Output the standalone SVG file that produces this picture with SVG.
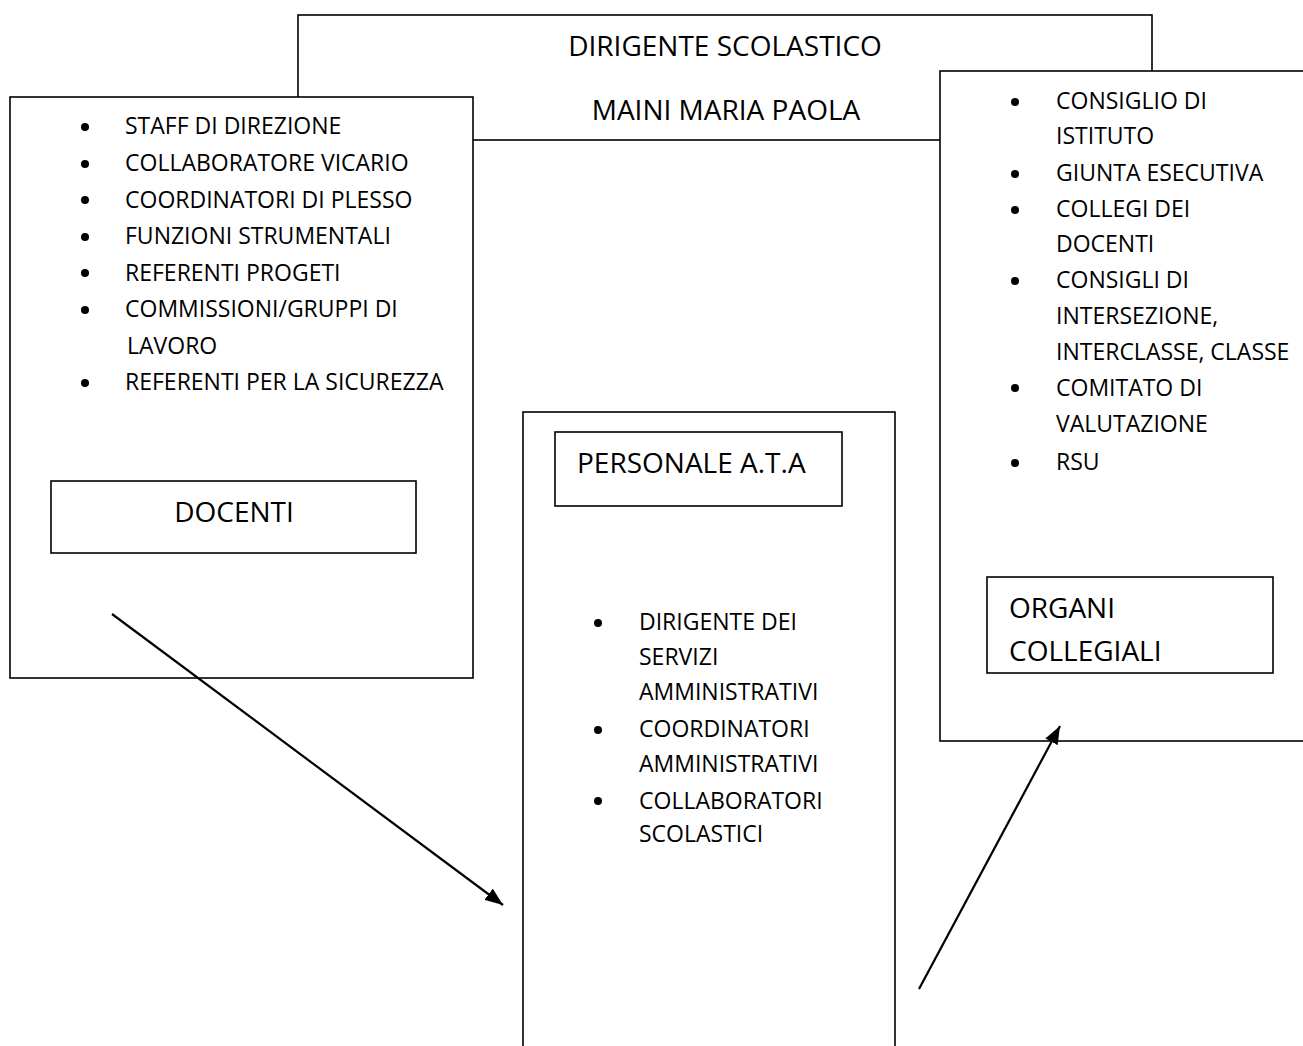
<svg xmlns="http://www.w3.org/2000/svg" width="1303" height="1046" viewBox="0 0 1303 1046">
<style>
.box{fill:#fff;stroke:#000;stroke-width:1.6}
.t{font-family:"Open Sans","Liberation Sans",sans-serif;font-size:23px;fill:#000}
.L{font-family:"Open Sans","Liberation Sans",sans-serif;font-size:28px;fill:#000}
.dot{fill:#000}
.conn{stroke:#000;stroke-width:2.2;fill:none}
</style>
<defs>
<marker id="ah" markerUnits="userSpaceOnUse" markerWidth="20" markerHeight="14" refX="18" refY="7" orient="auto">
<path d="M0,0 L18,7 L0,14 Z" fill="#000"/>
</marker>
</defs>
<rect width="1303" height="1046" fill="#fff"/>

<g id="dirigente">
<rect class="box" x="298" y="15" width="854" height="125"/>
<text class="L" x="725" y="56" text-anchor="middle">DIRIGENTE SCOLASTICO</text>
<text class="L" x="726" y="120" text-anchor="middle">MAINI MARIA PAOLA</text>
</g>

<g id="staff">
<rect class="box" x="10" y="97" width="463" height="581"/>
<circle class="dot" cx="85" cy="127" r="4"/><text class="t" x="125" y="134">STAFF DI DIREZIONE</text>
<circle class="dot" cx="85" cy="164" r="4"/><text class="t" x="125" y="171">COLLABORATORE VICARIO</text>
<circle class="dot" cx="85" cy="200" r="4"/><text class="t" x="125" y="207.5">COORDINATORI DI PLESSO</text>
<circle class="dot" cx="85" cy="237" r="4"/><text class="t" x="125" y="244">FUNZIONI STRUMENTALI</text>
<circle class="dot" cx="85" cy="273" r="4"/><text class="t" x="125" y="280.5">REFERENTI PROGETI</text>
<circle class="dot" cx="85" cy="310" r="4"/><text class="t" x="125" y="317">COMMISSIONI/GRUPPI DI</text>
<text class="t" x="127" y="353.5">LAVORO</text>
<circle class="dot" cx="85" cy="383" r="4"/><text class="t" x="125" y="390">REFERENTI PER LA SICUREZZA</text>
</g>

<g id="docenti">
<rect class="box" x="51" y="481" width="365" height="72"/>
<text class="L" x="234" y="522" text-anchor="middle">DOCENTI</text>
</g>

<g id="organi-list">
<rect class="box" x="940" y="71" width="380" height="670"/>
<circle class="dot" cx="1015" cy="102" r="4"/><text class="t" x="1056" y="109">CONSIGLIO DI</text>
<text class="t" x="1056" y="144">ISTITUTO</text>
<circle class="dot" cx="1015" cy="174" r="4"/><text class="t" x="1056" y="181">GIUNTA ESECUTIVA</text>
<circle class="dot" cx="1015" cy="210" r="4"/><text class="t" x="1056" y="217">COLLEGI DEI</text>
<text class="t" x="1056" y="252">DOCENTI</text>
<circle class="dot" cx="1015" cy="281" r="4"/><text class="t" x="1056" y="288">CONSIGLI DI</text>
<text class="t" x="1056" y="324">INTERSEZIONE,</text>
<text class="t" x="1056" y="359.5">INTERCLASSE, CLASSE</text>
<circle class="dot" cx="1015" cy="388" r="4"/><text class="t" x="1056" y="395.5">COMITATO DI</text>
<text class="t" x="1056" y="431.5">VALUTAZIONE</text>
<circle class="dot" cx="1015" cy="463" r="4"/><text class="t" x="1056" y="470">RSU</text>
</g>

<g id="organi-collegiali">
<rect class="box" x="987" y="577" width="286" height="96"/>
<text class="L" x="1009" y="618">ORGANI</text>
<text class="L" x="1009" y="661">COLLEGIALI</text>
</g>

<g id="ata">
<rect class="box" x="523" y="412" width="372" height="660"/>
<circle class="dot" cx="598" cy="623" r="4"/><text class="t" x="639" y="630">DIRIGENTE DEI</text>
<text class="t" x="639" y="665">SERVIZI</text>
<text class="t" x="639" y="699.5">AMMINISTRATIVI</text>
<circle class="dot" cx="598" cy="730" r="4"/><text class="t" x="639" y="737">COORDINATORI</text>
<text class="t" x="639" y="772">AMMINISTRATIVI</text>
<circle class="dot" cx="598" cy="801" r="4"/><text class="t" x="639" y="808.5">COLLABORATORI</text>
<text class="t" x="639" y="842">SCOLASTICI</text>
</g>

<g id="personale-ata">
<rect class="box" x="555" y="432" width="287" height="74"/>
<text class="L" x="577" y="473">PERSONALE A.T.A</text>
</g>

<g id="connectors">
<line class="conn" x1="112" y1="614" x2="503" y2="905" marker-end="url(#ah)"/>
<line class="conn" x1="919" y1="989" x2="1060" y2="726" marker-end="url(#ah)"/>
</g>
</svg>
